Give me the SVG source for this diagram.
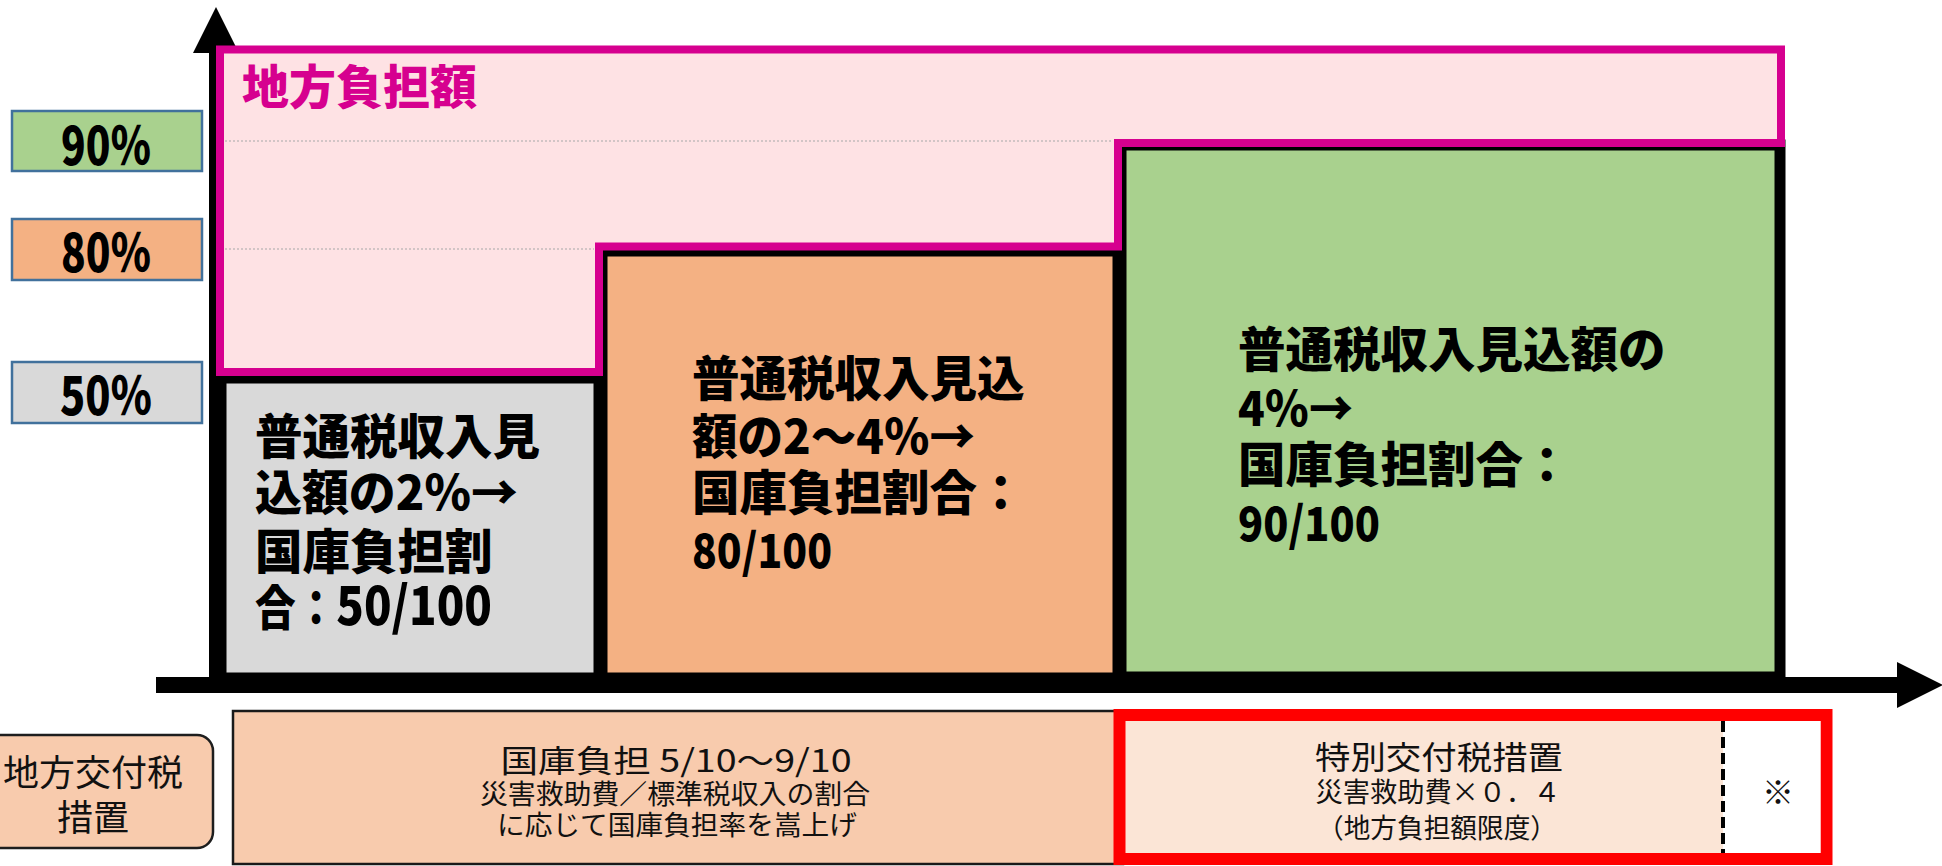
<svg xmlns="http://www.w3.org/2000/svg" width="1942" height="866" viewBox="0 0 1942 866">
<defs>
<style>
.jp{font-family:"Noto Sans CJK JP","Noto Sans CJK SC",sans-serif;}
.heavy{font-weight:900;fill:#000;font-size:47.5px;}
.lbl{font-weight:900;fill:#000;font-size:52px;text-anchor:start;}
.lblbox{stroke:#41719C;stroke-width:2.5;}
.col{stroke:#000;}
.reg{font-weight:400;fill:#111;}
.grid{stroke:#C4BCBC;stroke-width:1.5;stroke-dasharray:2 2;fill:none;}
</style>
<marker id="arrow" viewBox="0 0 46 46" refX="0" refY="23" markerWidth="46" markerHeight="46" markerUnits="userSpaceOnUse" orient="auto">
<path d="M0,0 L46,23 L0,46 Z" fill="#000"/>
</marker>
</defs>
<rect width="1942" height="866" fill="#fff"/>

<!-- columns -->
<g id="col-50">
<rect class="col" x="222" y="379" width="376" height="298" fill="#D9D9D9" stroke-width="9"/>
<text class="jp heavy" x="255" y="454">普通税収入見</text>
<text class="jp heavy" x="255" y="510" textLength="263" lengthAdjust="spacingAndGlyphs">込額の2％→</text>
<text class="jp heavy" x="255" y="569">国庫負担割</text>
<text class="jp heavy" x="255" y="625" textLength="237" lengthAdjust="spacingAndGlyphs">合：<tspan font-size="53">50/100</tspan></text>
</g>
<g id="col-80">
<rect class="col" x="603" y="252" width="514" height="425" fill="#F4B183" stroke-width="9"/>
<text class="jp heavy" x="692" y="396">普通税収入見込</text>
<text class="jp heavy" x="692" y="454" textLength="283" lengthAdjust="spacingAndGlyphs">額の2～4％→</text>
<text class="jp heavy" x="692" y="510">国庫負担割合：</text>
<text class="jp heavy" x="692" y="568" font-size="53" textLength="140" lengthAdjust="spacingAndGlyphs">80/100</text>
</g>
<g id="col-90">
<rect class="col" x="1121" y="145" width="659" height="532" fill="#A9D18E" stroke-width="11"/>
<text class="jp heavy" x="1238" y="367">普通税収入見込額の</text>
<text class="jp heavy" x="1238" y="426" textLength="115" lengthAdjust="spacingAndGlyphs">4％→</text>
<text class="jp heavy" x="1238" y="482">国庫負担割合：</text>
<text class="jp heavy" x="1238" y="541" font-size="53" textLength="142" lengthAdjust="spacingAndGlyphs">90/100</text>
</g>

<!-- axes -->
<g id="connectors">
<line x1="216" y1="693" x2="216" y2="53" stroke="#000" stroke-width="14" marker-end="url(#arrow)"/>
<line x1="156" y1="685" x2="1897" y2="685" stroke="#000" stroke-width="16" marker-end="url(#arrow)"/>
</g>

<!-- local burden area -->
<g id="local-burden">
<path d="M220,49.5 H1781 V143 H1118 V246.5 H599 V372 H220 Z" fill="#FEE2E4" stroke="#D6008F" stroke-width="8" stroke-linejoin="miter"/>
<line class="grid" x1="225" y1="141" x2="1113" y2="141"/>
<line class="grid" x1="225" y1="249" x2="594" y2="249"/>
<text class="jp" x="242" y="104" font-size="47" font-weight="900" fill="#D6008F">地方負担額</text>
</g>

<!-- y labels -->
<g id="label-90">
<rect class="lblbox" x="12" y="111" width="190" height="60" fill="#A9D18E"/>
<text class="jp lbl" x="61" y="165" textLength="90" lengthAdjust="spacingAndGlyphs">90％</text>
</g>
<g id="label-80">
<rect class="lblbox" x="12" y="219" width="190" height="61" fill="#F4B183"/>
<text class="jp lbl" x="61" y="272" textLength="90" lengthAdjust="spacingAndGlyphs">80％</text>
</g>
<g id="label-50">
<rect class="lblbox" x="12" y="362" width="190" height="61" fill="#D9D9D9"/>
<text class="jp lbl" x="60" y="415" textLength="92" lengthAdjust="spacingAndGlyphs">50％</text>
</g>

<!-- bottom row -->
<g id="grant-label">
<rect x="-20" y="735" width="233" height="113" rx="16" fill="#F8CBAD" stroke="#1E1E1E" stroke-width="2.5"/>
<text class="jp reg" x="93" y="786" font-size="36" text-anchor="middle">地方交付税</text>
<text class="jp reg" x="93" y="831" font-size="36" text-anchor="middle">措置</text>
</g>
<g id="national-share">
<rect x="233" y="711" width="890" height="153" fill="#F8CBAD" stroke="#1A1A1A" stroke-width="2.5"/>
<text class="jp reg" x="676" y="772" font-size="31" text-anchor="middle" textLength="351" lengthAdjust="spacingAndGlyphs">国庫負担 5/10～9/10</text>
<text class="jp reg" x="675" y="804" font-size="27" text-anchor="middle" textLength="390" lengthAdjust="spacingAndGlyphs">災害救助費／標準税収入の割合</text>
<text class="jp reg" x="677" y="835" font-size="27" text-anchor="middle" textLength="360" lengthAdjust="spacingAndGlyphs">に応じて国庫負担率を嵩上げ</text>
</g>
<g id="special-grant">
<rect x="1119.5" y="715" width="707" height="144" fill="#FBE5D6" stroke="#FF0000" stroke-width="12"/>
<rect x="1723" y="721" width="97.5" height="132" fill="#FFFFFF"/>
<line x1="1723" y1="721" x2="1723" y2="853" stroke="#000" stroke-width="4" stroke-dasharray="11 5"/>
<text class="jp reg" x="1439" y="769" font-size="32" text-anchor="middle" textLength="248" lengthAdjust="spacingAndGlyphs">特別交付税措置</text>
<text class="jp reg" x="1438" y="802" font-size="27" text-anchor="middle" textLength="245" lengthAdjust="spacingAndGlyphs">災害救助費×０．４</text>
<text class="jp reg" x="1437" y="838" font-size="27" text-anchor="middle" textLength="240" lengthAdjust="spacingAndGlyphs">（地方負担額限度）</text>
<text class="jp reg" x="1778" y="804" font-size="32" text-anchor="middle">※</text>
</g>
</svg>
